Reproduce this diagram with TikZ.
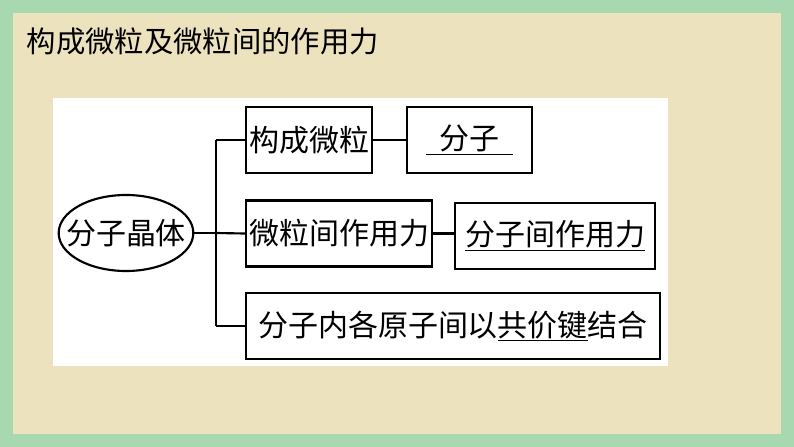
\documentclass[tikz,border=0pt]{standalone}
\usepackage{fontspec}
\setmainfont{Noto Sans CJK SC}
\usetikzlibrary{shapes.geometric}
\definecolor{framegreen}{RGB}{168,216,176}
\definecolor{paper}{RGB}{236,227,190}
\tikzset{
  termbox/.style={draw,line width=1.6pt,minimum height=49.5pt,inner sep=1pt,font=\fontsize{22.5}{24}\selectfont},
  link/.style={line width=1.6pt}
}
\begin{document}
\begin{tikzpicture}[x=0.75pt,y=-0.75pt]
\useasboundingbox (0,0) rectangle (794,447);
\fill[framegreen] (0,0) rectangle (794,447);
\fill[paper] (13,13) rectangle (781,434);
\node[anchor=west,font=\fontsize{22}{24}\selectfont] (title) at (22,41) {构成微粒及微粒间的作用力};
\fill[white] (53,98) rectangle (668,366);
% crystal
\node[draw,ellipse,line width=1.6pt,minimum width=101pt,minimum height=57pt,inner xsep=-17pt,inner ysep=0pt,font=\fontsize{22.5}{24}\selectfont] (crystal) at (126,233) {分子晶体};
\coordinate (fork) at (216,233);
\coordinate (top) at (216,140);
\coordinate (bot) at (216,326);
% boxes
\node[termbox,minimum width=94.5pt] (unit) at (309,140) {构成微粒};
\node[termbox,minimum width=94pt] (mol) at (469.5,140) {\underline{\hspace{10pt}分子\hspace{10pt}}};
\node[termbox,minimum width=139.5pt] (force) at (339,233.5) {微粒间作用力};
\node[termbox,minimum width=150pt] (molforce) at (555,236) {\underline{分子间作用力}};
\node[termbox,minimum width=310.5pt] (bond) at (453,326) {分子内各原子间以\underline{共价键}结合};
% connectors
\draw[link] (crystal.east) -- (fork);
\draw[link] (top) -- (bot);
\draw[link] (top) -- (unit.west);
\draw[link] (fork) -- (force.west);
\draw[link] (bot) -- (bond.west);
\draw[link] (unit.east) -- (mol.west);
\draw[link] (force.east) -- (force.east -| molforce.west);
\end{tikzpicture}
\end{document}
